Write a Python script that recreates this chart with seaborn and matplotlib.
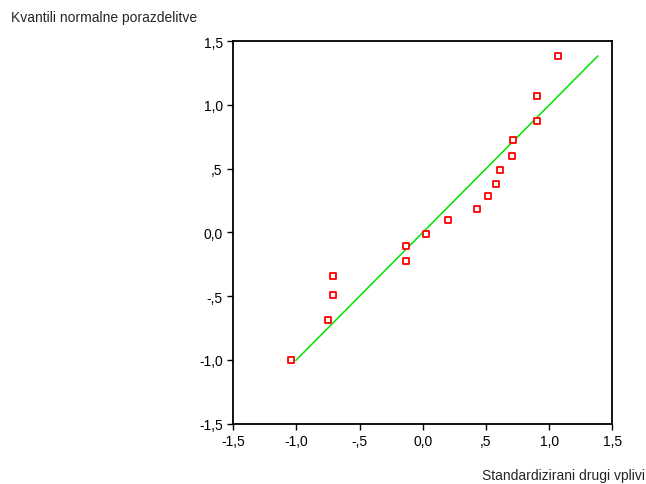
import numpy as np
import pandas as pd
import matplotlib
matplotlib.use("Agg")
import matplotlib.pyplot as plt
import seaborn as sns

# observed (standardized) values and expected normal quantiles
observed = [1.069, 0.905, 0.905, 0.713, 0.702, 0.610, 0.576, 0.517, 0.425, 0.200,
            0.026, -0.135, -0.135, -0.707, -0.707, -0.747, -1.045]
expected = [1.385, 1.071, 0.874, 0.725, 0.599, 0.489, 0.382, 0.285, 0.185, 0.097,
            -0.011, -0.110, -0.228, -0.346, -0.495, -0.691, -1.005]

# reference line y = x over the range of expected quantiles
line_x = [-1.005, 1.385]
line_y = [-1.005, 1.385]

tick_values = [-1.5, -1.0, -0.5, 0.0, 0.5, 1.0, 1.5]
tick_labels = ["-1,5", "-1,0", "-,5", "0,0", ",5", "1,0", "1,5"]

x_title = "Standardizirani drugi vplivi"
y_title = "Kvantili normalne porazdelitve"

df = pd.DataFrame({"observed": observed, "expected": expected})
ref = pd.DataFrame({"x": line_x, "y": line_y})

sns.set_style("white")
plt.rcParams["font.family"] = ["Liberation Sans", "DejaVu Sans"]

fig = plt.figure(figsize=(6.46, 4.85), dpi=100)
ax = fig.add_axes([0.361, 0.1247, 0.587, 0.7881])

sns.lineplot(data=ref, x="x", y="y", color="#00e000", linewidth=1.1, ax=ax)
sns.scatterplot(data=df, x="observed", y="expected", marker="s", s=22,
                facecolor="white", edgecolor="#ff0000", linewidth=1.3, ax=ax, zorder=3)

ax.set_xlim(-1.5, 1.5)
ax.set_ylim(-1.5, 1.5)
ax.set_xticks(tick_values)
ax.set_xticklabels(tick_labels)
ax.set_yticks(tick_values)
ax.set_yticklabels(tick_labels)
ax.tick_params(axis="both", direction="out", length=4.5, width=1, color="black",
               labelsize=10, labelcolor="black", bottom=True, left=True, pad=3)
for s in ax.spines.values():
    s.set_color("black")
    s.set_linewidth(1.3)
ax.set_xlabel("")
ax.set_ylabel("")

fig.text(11 / 646, 1 - 18 / 485, y_title, fontsize=10, ha="left", va="center")
fig.text(645 / 646, 1 - 476 / 485, x_title, fontsize=10, ha="right", va="center")

fig.savefig("out.png", dpi=100, facecolor="white")
